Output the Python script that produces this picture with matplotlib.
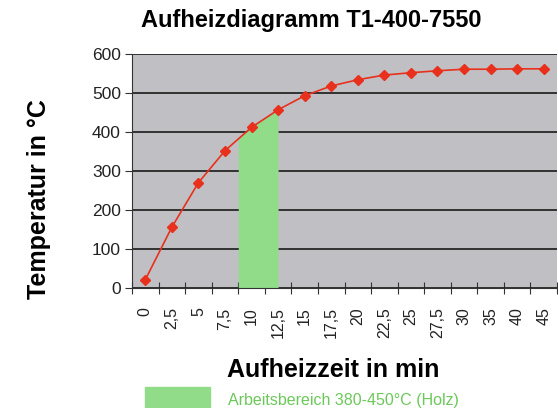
import matplotlib
matplotlib.use("Agg")
import matplotlib.pyplot as plt
import numpy as np

plt.rcParams['font.family'] = ['Liberation Sans', 'DejaVu Sans']

zeit_labels = ["0", "2,5", "5", "7,5", "10", "12,5", "15", "17,5", "20",
               "22,5", "25", "27,5", "30", "35", "40", "45"]
temperatur = [21, 156, 270, 352, 412, 457, 493, 518, 534, 546, 552, 557,
              561, 561, 562, 562]
# Arbeitsbereich (Kategorie-Positionen)
bereich_start = 3.5
bereich_ende = 5.0

fig = plt.figure(figsize=(5.58, 4.08), dpi=100)
W, H = 558, 408
ax = fig.add_axes([132 / W, 1 - 288 / H, 425 / W, 234 / H])
ax.set_facecolor("#c0c0c4")

x = np.arange(len(temperatur))
ax.set_xlim(-0.5, len(temperatur) - 0.5)
ax.set_ylim(0, 600)

# gruener Bereich unter der Kurve
xs = np.linspace(bereich_start, bereich_ende, 50)
ax.fill_between(xs, 0, np.interp(xs, x, temperatur), color="#90dc88", lw=0, zorder=2)

ax.plot(x, temperatur, color="#e8301c", lw=1.2, marker="D", markersize=5,
        zorder=4)

ax.set_yticks(range(0, 601, 100))
ax.yaxis.grid(True, color="#1a1a1a", lw=1.2, zorder=1)
ax.set_axisbelow(True)
ax.tick_params(axis="y", labelsize=12.5, length=5, color="#333333", pad=3,
               labelcolor="#222222")

ax.set_xticks(np.arange(-0.5, len(temperatur) + 0.5, 1), minor=False)
ax.set_xticklabels([])
ax.set_xticks(x, minor=True)
ax.set_xticklabels(zeit_labels, minor=True, rotation=90, fontsize=11.5,
                   color="#222222")
ax.tick_params(axis="x", which="major", direction="inout", length=9, color="#333333")
ax.tick_params(axis="x", which="minor", length=0, pad=14)

for s in ["top", "right"]:
    ax.spines[s].set_visible(False)
for s in ["left", "bottom"]:
    ax.spines[s].set_color("#333333")

fig.text(311 / W, 1 - 21 / H, "Aufheizdiagramm T1-400-7550", ha="center",
         va="center", fontsize=17, fontweight="bold")
fig.text(39 / W, 1 - 199 / H, "Temperatur in °C", ha="center", va="center",
         rotation=90, fontsize=18, fontweight="bold")
fig.text(333 / W, 1 - 370 / H, "Aufheizzeit in min", ha="center", va="center",
         fontsize=18, fontweight="bold")

# Legende
fig.patches.append(plt.Rectangle((145 / W, 1 - 408 / H), 65 / W, 21 / H,
                                 transform=fig.transFigure, color="#90dc88"))
fig.text(228 / W, 1 - 401 / H, "Arbeitsbereich 380-450°C (Holz)", ha="left",
         va="center", fontsize=11.5, color="#6cc85a")

fig.savefig("out.png", dpi=100)
